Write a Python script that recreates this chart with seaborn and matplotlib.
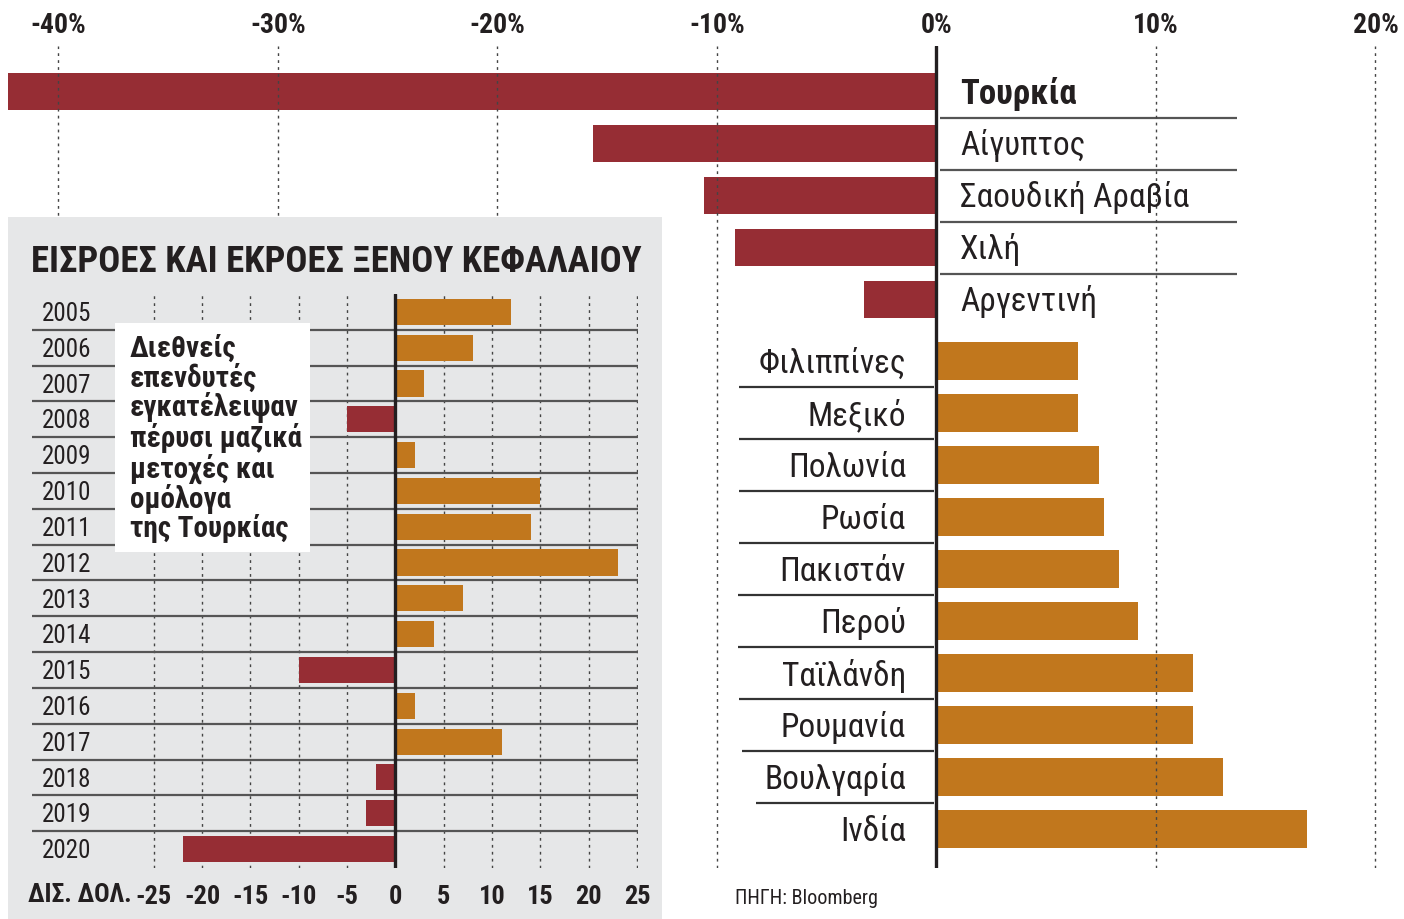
import numpy as np
import pandas as pd
import seaborn as sns
import matplotlib
matplotlib.use('Agg')
import matplotlib.pyplot as plt
from matplotlib import font_manager

# --- data -------------------------------------------------------------
countries = ['Τουρκία', 'Αίγυπτος', 'Σαουδική Αραβία', 'Χιλή', 'Αργεντινή',
             'Φιλιππίνες', 'Μεξικό', 'Πολωνία', 'Ρωσία', 'Πακιστάν',
             'Περού', 'Ταϊλάνδη', 'Ρουμανία', 'Βουλγαρία', 'Ινδία']
change_pct = [-42.3, -15.65, -10.6, -9.2, -3.3,
              6.45, 6.45, 7.4, 7.65, 8.3,
              9.2, 11.7, 11.7, 13.05, 16.9]
pct_ticks = [-40, -30, -20, -10, 0, 10, 20]

years = ['2005', '2006', '2007', '2008', '2009', '2010', '2011', '2012',
         '2013', '2014', '2015', '2016', '2017', '2018', '2019', '2020']
flows_bn = [12, 8, 3, -5, 2, 15, 14, 23, 7, 4, -10, 2, 11, -2, -3, -22]
flow_ticks = [-25, -20, -15, -10, -5, 0, 5, 10, 15, 20, 25]

title = 'ΕΙΣΡΟΕΣ ΚΑΙ ΕΚΡΟΕΣ ΞΕΝΟΥ ΚΕΦΑΛΑΙΟΥ'
note = 'Διεθνείς\nεπενδυτές\nεγκατέλειψαν\nπέρυσι μαζικά\nμετοχές και\nομόλογα\nτης Τουρκίας'
unit = 'ΔΙΣ. ΔΟΛ.'
source = 'ΠΗΓΗ: Bloomberg'

RED = '#962D34'
ORANGE = '#C1771D'
PALETTE = {'neg': RED, 'pos': ORANGE}
INK = '#231F20'
W, H = 1404, 919


def pick_font():
    fl = font_manager.fontManager.ttflist
    names = {f.name for f in fl}
    for n in ['Roboto Condensed', 'Liberation Sans Narrow', 'Noto Sans Condensed']:
        if n in names:
            return n, 'normal'
    if any('DejaVuSansCondensed' in f.fname for f in fl):
        return 'DejaVu Sans', 'condensed'
    return 'Roboto', 'normal'


def fx(px):
    return px / W


def fy(px):
    return 1 - px / H


sns.set_style('white')
FAMILY, STRETCH = pick_font()
plt.rcParams['font.family'] = [FAMILY, 'DejaVu Sans']
plt.rcParams['font.stretch'] = STRETCH
plt.rcParams['text.color'] = INK

fig = plt.figure(figsize=(W / 100, H / 100), dpi=100)

# --- main chart: change by country ------------------------------------
main = pd.DataFrame({'country': countries, 'change': change_pct})
main['sign'] = np.where(main['change'] < 0, 'neg', 'pos')
# small extra gap between the losers and the winners
main['pos'] = np.arange(len(main)) + np.where(main['change'] > 0, 0.18, 0.0)

ax = fig.add_axes([fx(8), fy(868), fx(1404 - 8), (868 - 46) / H])
sns.barplot(data=main, x='change', y='pos', hue='sign', palette=PALETTE,
            orient='y', native_scale=True, width=0.72, saturation=1,
            linewidth=0, legend=False, ax=ax)
ax.set_xlim(-42.3, 21.3)
ax.set_ylim(main['pos'].max() + 0.75, -0.875)
ax.set_xlabel('')
ax.set_ylabel('')
ax.set_yticks([])
ax.xaxis.tick_top()
ax.set_xticks(pct_ticks)
ax.set_xticklabels([f'{t}%' for t in pct_ticks], fontsize=20, fontweight='bold')
ax.tick_params(axis='x', length=0, pad=5, colors=INK)
for s in ax.spines.values():
    s.set_visible(False)
ax.grid(axis='x', color='#444444', linestyle=(0, (2, 3)), linewidth=1)
ax.set_axisbelow(False)
ax.axvline(0, color=INK, lw=2.4, zorder=4)

for _, r in main.iterrows():
    if r['change'] < 0:
        bold = r['country'] == 'Τουρκία'
        ax.text(1.07, r['pos'] + 0.04, r['country'], ha='left', va='center',
                fontsize=25 if bold else 24, fontweight='bold' if bold else 'normal')
    else:
        ax.text(-1.39, r['pos'] + 0.05, r['country'], ha='right', va='center', fontsize=24)

neg_rows = main[main['change'] < 0]['pos'].values
ax.hlines(neg_rows[:-1] + 0.5, 0.16, 13.7, color='#555555', lw=1.6)
pos_rows = main[main['change'] > 0]['pos'].values
line_starts = [-9.0, -9.0, -9.0, -9.0, -9.05, -9.05, -9.0, -8.85, -8.2]
for y, x0 in zip(pos_rows[:-1] + 0.5, line_starts):
    ax.hlines(y, x0, -0.1, color='#333333', lw=1.6)

# --- inset panel: yearly foreign capital flows ------------------------
panel = fig.add_axes([fx(8), 0, fx(662 - 8), (919 - 217) / H])
panel.set_facecolor('#E6E7E8')
panel.set_xticks([])
panel.set_yticks([])
for s in panel.spines.values():
    s.set_visible(False)

flows = pd.DataFrame({'year': years, 'flow': flows_bn})
flows['sign'] = np.where(flows['flow'] < 0, 'neg', 'pos')

ins = fig.add_axes([fx(32), fy(868), fx(638 - 32), (868 - 294) / H])
ins.set_facecolor('none')
sns.barplot(data=flows, x='flow', y='year', hue='sign', palette=PALETTE,
            orient='y', width=0.73, saturation=1, linewidth=0,
            legend=False, ax=ins)
ins.set_xlim(-37.6, 25.1)
ins.set_ylim(len(years) - 0.47, -0.5)
ins.set_xlabel('')
ins.set_ylabel('')
ins.set_yticks([])
ins.set_xticks(flow_ticks)
ins.set_xticklabels([str(t) for t in flow_ticks], fontsize=19, fontweight='bold')
ins.tick_params(axis='x', length=0, pad=12, colors=INK)
for s in ins.spines.values():
    s.set_visible(False)
ins.grid(axis='x', color='#444444', linestyle=(0, (2, 3)), linewidth=1)
ins.set_axisbelow(True)
ins.axvline(0, color=INK, lw=2.4, zorder=4)
ins.hlines(np.arange(len(years) - 1) + 0.5, -37.6, 25.1, color='#555555', lw=1.6)
for i, y in enumerate(years):
    ins.text(-36.6, i + 0.06, y, ha='left', va='center', fontsize=18)

fig.text(fx(31), fy(262), title, ha='left', va='center', fontsize=26.5, fontweight='heavy')
fig.text(fx(28), fy(895), unit, ha='left', va='center', fontsize=18.5, fontweight='bold')

box = fig.add_axes([fx(115), fy(552), fx(310 - 115), (552 - 323) / H])
box.set_facecolor('white')
box.set_xticks([])
box.set_yticks([])
for s in box.spines.values():
    s.set_visible(False)
fig.text(fx(130), fy(335), note, ha='left', va='top', fontsize=21,
         fontweight='bold', linespacing=1.0)

fig.text(fx(735), fy(898), source, ha='left', va='center', fontsize=14.5)

fig.savefig('out.png', dpi=100)
